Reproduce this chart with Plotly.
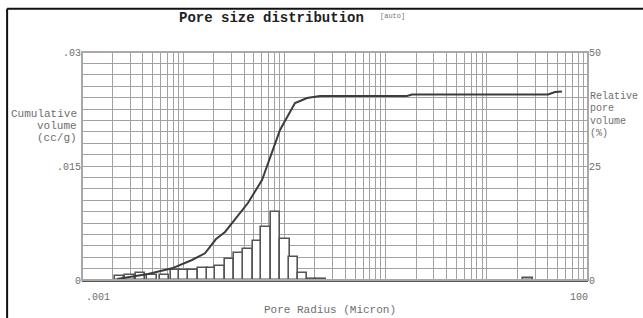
import plotly.graph_objects as go

# ---- data ----
# cumulative pore volume curve (radius in micron, cc/g)
cum_radius = [0.00222, 0.00279, 0.00449, 0.00775, 0.01222, 0.0164, 0.0211, 0.0259,
              0.0303, 0.0436, 0.0601, 0.0754, 0.0905, 0.1135, 0.1273, 0.1427,
              0.1671, 0.2249, 1.626, 1.824, 40.3, 47.2, 55.3]
cum_volume = [0.00013, 0.00036, 0.00079, 0.00154, 0.00263, 0.00351, 0.00539, 0.00632,
              0.0075, 0.01013, 0.01316, 0.01671, 0.01974, 0.02211, 0.02329, 0.02355,
              0.02395, 0.02421, 0.02421, 0.02441, 0.02441, 0.02474, 0.0248]

# relative pore volume histogram (bar centre radius in micron, %)
bar_radius = [0.00235, 0.00298, 0.00378, 0.00492, 0.00653, 0.00839, 0.0102, 0.0125,
              0.0157, 0.0193, 0.0231, 0.0287, 0.0356, 0.0437, 0.0542, 0.0658,
              0.0817, 0.1014, 0.123, 0.151, 0.185, 0.230, 25.5]
bar_percent = [0.9, 1.1, 1.5, 1.0, 1.0, 2.1, 2.1, 2.1,
               2.6, 2.6, 3.1, 4.5, 5.9, 6.7, 8.6, 11.6,
               14.9, 9.1, 5.0, 1.5, 0.3, 0.3, 0.35]

x_tick_vals = [0.001, 100]
x_tick_text = [".001", "100"]
left_tick_vals = [0, 0.015, 0.03]
left_tick_text = ["0", ".015", ".03"]
right_tick_vals = [0, 25, 50]
right_tick_text = ["0", "25", "50"]

title_text = "Pore size distribution"
x_title = "Pore Radius (Micron)"
left_title = ["Cumulative", "volume", "(cc/g)"]
right_title = ["Relative", "pore", "volume", "(%)"]

MONO = "Liberation Mono, DejaVu Sans Mono, monospace"
TXT = "#6e6e6e"

# bars are equal width in log space: half-width in decades
HALF_DEC = 0.0475
bar_width = [r * (10 ** HALF_DEC - 10 ** -HALF_DEC) for r in bar_radius]
bar_offset = [r * 10 ** -HALF_DEC - r for r in bar_radius]

# log grid positions (1..9 x each decade)
x_grid = [m * 10 ** e for e in range(-3, 2) for m in range(1, 10)] + [100]
# 20 horizontal divisions on the % axis
y_grid = [i * 2.5 for i in range(21)]
y_text = [right_tick_text[right_tick_vals.index(v)] if v in right_tick_vals else "" for v in y_grid]

fig = go.Figure()

fig.add_trace(go.Bar(
    x=bar_radius, y=bar_percent, width=bar_width, offset=bar_offset,
    marker=dict(color="white", line=dict(color="#555555", width=1.6)),
    yaxis="y", showlegend=False))

fig.add_trace(go.Scatter(
    x=cum_radius, y=cum_volume, mode="lines", yaxis="y2",
    line=dict(color="#3c3c3c", width=2), showlegend=False))

fig.update_layout(
    width=643, height=318,
    margin=dict(l=82, r=55, t=52, b=38, autoexpand=False),
    paper_bgcolor="white", plot_bgcolor="white",
    bargap=0,
    font=dict(family=MONO, size=10, color=TXT),
    xaxis=dict(type="log", range=[-3, 2], tickvals=x_grid, showticklabels=False,
               ticks="", showgrid=True, gridcolor="#a2a2a2", gridwidth=1,
               showline=True, linecolor="#555555", linewidth=2, zeroline=False),
    yaxis=dict(range=[0, 50], side="right", tickvals=y_grid, ticktext=y_text,
               ticks="", showgrid=True, gridcolor="#a2a2a2", gridwidth=1,
               zeroline=False, showline=False,
               tickfont=dict(family=MONO, size=10, color=TXT)),
    yaxis2=dict(range=[0, 0.03], side="left", overlaying="y",
                tickvals=left_tick_vals, ticktext=left_tick_text, ticks="",
                showgrid=False, zeroline=False, showline=False,
                tickfont=dict(family=MONO, size=10, color=TXT)),
)

shapes = [
    # plot frame
    dict(type="rect", xref="paper", yref="paper", x0=0, y0=0, x1=1, y1=1,
         line=dict(color="#a8a8a8", width=2), layer="above"),
    # outer black frame (top and left edges)
    dict(type="line", xref="paper", yref="paper", x0=-0.148, y0=1.19, x1=1.2, y1=1.19,
         line=dict(color="#111111", width=2)),
    dict(type="line", xref="paper", yref="paper", x0=-0.148, y0=1.19, x1=-0.148, y1=-0.3,
         line=dict(color="#111111", width=2)),
]
fig.update_layout(shapes=shapes)

ann = []
ann.append(dict(text="<b>" + title_text + "</b>", xref="paper", yref="paper", x=0.375, y=1.149,
                showarrow=False, font=dict(family=MONO, size=14, color="#222222"),
                xanchor="center", yanchor="middle"))
ann.append(dict(text="[auto]", xref="paper", yref="paper", x=0.613, y=1.16,
                showarrow=False, font=dict(family=MONO, size=7, color="#777777"),
                xanchor="center", yanchor="middle"))
# x tick labels
ann.append(dict(text=x_tick_text[0], xref="x", yref="paper", x=-3, y=-0.075,
                showarrow=False, xanchor="left", yanchor="middle", xshift=2,
                font=dict(family=MONO, size=10, color=TXT)))
ann.append(dict(text=x_tick_text[1], xref="x", yref="paper", x=2, y=-0.075,
                showarrow=False, xanchor="right", yanchor="middle", xshift=2,
                font=dict(family=MONO, size=10, color=TXT)))
ann.append(dict(text=x_title, xref="paper", yref="paper", x=0.49, y=-0.132,
                showarrow=False, xanchor="center", yanchor="middle",
                font=dict(family=MONO, size=11, color=TXT)))
for i, t in enumerate(left_title):
    ann.append(dict(text=t, xref="paper", yref="paper", x=-0.006, y=(280 - (114 + 12 * i)) / 228,
                    showarrow=False, xanchor="right", yanchor="middle",
                    font=dict(family=MONO, size=11, color=TXT)))
for i, t in enumerate(right_title):
    ann.append(dict(text=t, xref="paper", yref="paper", x=1.0, y=(280 - (96 + 12.5 * i)) / 228,
                    showarrow=False, xanchor="left", yanchor="middle",
                    font=dict(family=MONO, size=10, color=TXT)))
fig.update_layout(annotations=ann)

fig.write_html("out.html", config={"displayModeBar": False},
               post_script="document.body.style.margin='0px';")
